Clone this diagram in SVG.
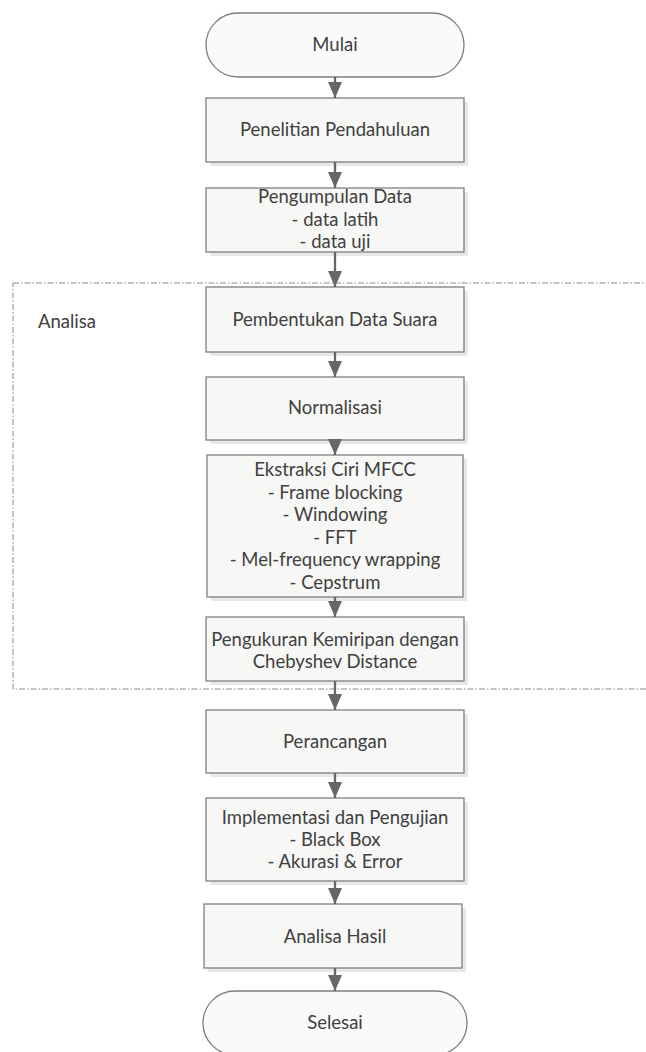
<svg xmlns="http://www.w3.org/2000/svg" width="646" height="1052" viewBox="0 0 646 1052">
<defs>
<marker id="arr" markerUnits="userSpaceOnUse" markerWidth="16" markerHeight="14" refX="16" refY="7" orient="auto" viewBox="0 0 16 14">
<path d="M0,0 L16,7 L0,14 Z" fill="#666666"/>
</marker>
<style>
.box{fill:#f7f7f6;stroke:#7f7f7f;stroke-width:1.3}
.sh{fill:#e8e8e8}
.term{fill:#fafafa;stroke:#7f7f7f;stroke-width:1.3}
.t{font-family:Lato,"Open Sans",sans-serif;font-size:18.5px;fill:#404040;text-anchor:middle}
.lbl{font-family:Lato,"Open Sans",sans-serif;font-size:18.5px;fill:#404040}
.con{stroke:#666666;stroke-width:2.3;fill:none}
</style>
</defs>
<rect width="646" height="1052" fill="#ffffff"/>

<g id="analisa-container">
<rect x="13" y="283" width="700" height="406" fill="none" stroke="#8a8a8a" stroke-width="1" stroke-dasharray="6 2 1.5 2"/>
<text class="lbl" x="38" y="328">Analisa</text>
</g>

<g id="mulai">
<rect class="term" x="206" y="13" width="258" height="64" rx="32" ry="32"/>
<text class="t" x="335" y="51">Mulai</text>
</g>
<g id="penelitian">
<rect class="sh" x="210" y="102" width="258" height="64"/>
<rect class="box" x="206" y="98" width="258" height="64"/>
<text class="t" x="335" y="136">Penelitian Pendahuluan</text>
</g>
<g id="pengumpulan">
<rect class="sh" x="210" y="192" width="258" height="64"/>
<rect class="box" x="206" y="188" width="258" height="64"/>
<text class="t" x="335" y="203">Pengumpulan Data</text>
<text class="t" x="335" y="226">- data latih</text>
<text class="t" x="335" y="248">- data uji</text>
</g>
<g id="pembentukan">
<rect class="sh" x="210" y="291" width="258" height="65"/>
<rect class="box" x="206" y="287" width="258" height="65"/>
<text class="t" x="335" y="326">Pembentukan Data Suara</text>
</g>
<g id="normalisasi">
<rect class="sh" x="210" y="381" width="258" height="63"/>
<rect class="box" x="206" y="377" width="258" height="63"/>
<text class="t" x="335" y="414">Normalisasi</text>
</g>
<g id="ekstraksi">
<rect class="sh" x="211" y="459" width="256" height="142"/>
<rect class="box" x="207" y="455" width="256" height="142"/>
<text class="t" x="335" y="476">Ekstraksi Ciri MFCC</text>
<text class="t" x="335" y="498.6">- Frame blocking</text>
<text class="t" x="335" y="521.2">- Windowing</text>
<text class="t" x="335" y="543.8">- FFT</text>
<text class="t" x="335" y="566.4">- Mel-frequency wrapping</text>
<text class="t" x="335" y="589">- Cepstrum</text>
</g>
<g id="pengukuran">
<rect class="sh" x="210" y="621" width="258" height="64"/>
<rect class="box" x="206" y="617" width="258" height="64"/>
<text class="t" x="335" y="646">Pengukuran Kemiripan dengan</text>
<text class="t" x="335" y="668">Chebyshev Distance</text>
</g>
<g id="perancangan">
<rect class="sh" x="210" y="714" width="258" height="63"/>
<rect class="box" x="206" y="710" width="258" height="63"/>
<text class="t" x="335" y="748">Perancangan</text>
</g>
<g id="implementasi">
<rect class="sh" x="210" y="802" width="258" height="83"/>
<rect class="box" x="206" y="798" width="258" height="83"/>
<text class="t" x="335" y="824">Implementasi dan Pengujian</text>
<text class="t" x="335" y="846">- Black Box</text>
<text class="t" x="335" y="868">- Akurasi &amp; Error</text>
</g>
<g id="analisa-hasil">
<rect class="sh" x="208" y="908" width="258" height="64"/>
<rect class="box" x="204" y="904" width="258" height="64"/>
<text class="t" x="335" y="943">Analisa Hasil</text>
</g>
<g id="selesai">
<rect class="term" x="203" y="991" width="264" height="64" rx="32" ry="32"/>
<text class="t" x="335" y="1029">Selesai</text>
</g>

<g id="connectors">
<line class="con" x1="335" y1="77" x2="335" y2="98" marker-end="url(#arr)"/>
<line class="con" x1="335" y1="162" x2="335" y2="188" marker-end="url(#arr)"/>
<line class="con" x1="335" y1="252" x2="335" y2="287" marker-end="url(#arr)"/>
<line class="con" x1="335" y1="352" x2="335" y2="377" marker-end="url(#arr)"/>
<line class="con" x1="335" y1="440" x2="335" y2="455" marker-end="url(#arr)"/>
<line class="con" x1="335" y1="597" x2="335" y2="617" marker-end="url(#arr)"/>
<line class="con" x1="335" y1="681" x2="335" y2="710" marker-end="url(#arr)"/>
<line class="con" x1="335" y1="773" x2="335" y2="798" marker-end="url(#arr)"/>
<line class="con" x1="335" y1="881" x2="335" y2="904" marker-end="url(#arr)"/>
<line class="con" x1="335" y1="968" x2="335" y2="991" marker-end="url(#arr)"/>
</g>
</svg>
